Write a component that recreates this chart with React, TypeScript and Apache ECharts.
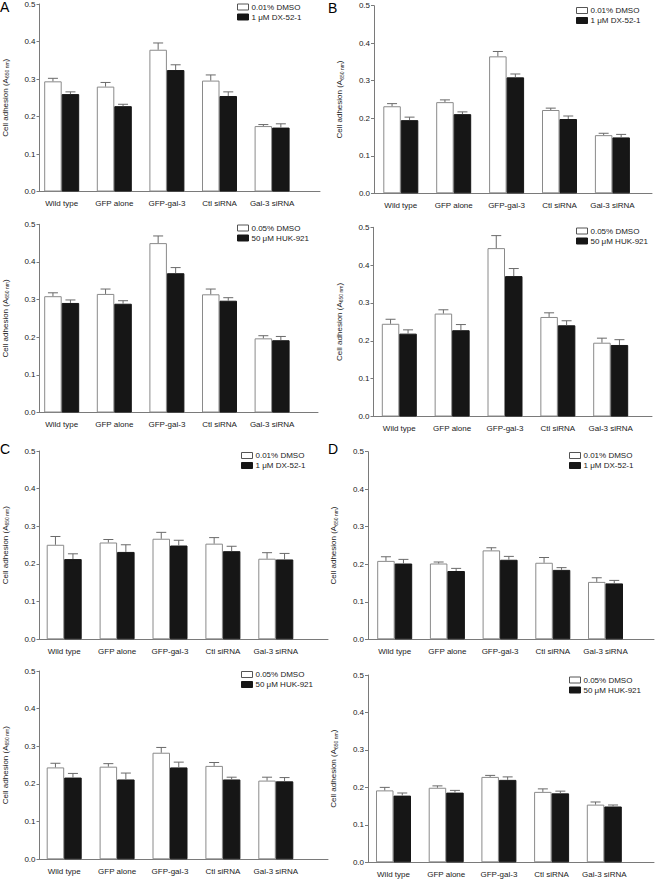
import React, { useEffect, useRef } from "react";
import * as echarts from "echarts";

// ---------- data ----------
const categories = ["Wild type", "GFP alone", "GFP-gal-3", "Ctl siRNA", "Gal-3 siRNA"];
const yTickMin = 0;
const yTickMax = 0.5;
const yTickStep = 0.1;

const legendDX = ["0.01% DMSO", "1 \u03bcM DX-52-1"];
const legendHUK = ["0.05% DMSO", "50 \u03bcM HUK-921"];
const yAxisTitle = "Cell adhesion (A{s|650 nm})";

// Panel A, top (DX-52-1)
const aTopCtrl = [0.293, 0.279, 0.377, 0.295, 0.174];
const aTopCtrlErr = [0.008, 0.011, 0.018, 0.015, 0.004];
const aTopDrug = [0.259, 0.227, 0.323, 0.254, 0.170];
const aTopDrugErr = [0.006, 0.005, 0.014, 0.011, 0.010];
// Panel A, bottom (HUK-921)
const aBotCtrl = [0.309, 0.315, 0.450, 0.314, 0.197];
const aBotCtrlErr = [0.009, 0.013, 0.019, 0.014, 0.007];
const aBotDrug = [0.291, 0.289, 0.370, 0.297, 0.192];
const aBotDrugErr = [0.008, 0.008, 0.015, 0.008, 0.010];
// Panel B, top
const bTopCtrl = [0.232, 0.243, 0.365, 0.222, 0.155];
const bTopCtrlErr = [0.007, 0.006, 0.013, 0.005, 0.005];
const bTopDrug = [0.195, 0.211, 0.309, 0.198, 0.149];
const bTopDrugErr = [0.008, 0.006, 0.009, 0.008, 0.008];
// Panel B, bottom
const bBotCtrl = [0.245, 0.272, 0.445, 0.263, 0.195];
const bBotCtrlErr = [0.012, 0.010, 0.033, 0.011, 0.012];
const bBotDrug = [0.219, 0.228, 0.371, 0.241, 0.189];
const bBotDrugErr = [0.010, 0.015, 0.020, 0.012, 0.014];
// Panel C, top
const cTopCtrl = [0.251, 0.257, 0.267, 0.254, 0.214];
const cTopCtrlErr = [0.022, 0.008, 0.017, 0.016, 0.016];
const cTopDrug = [0.213, 0.232, 0.249, 0.234, 0.212];
const cTopDrugErr = [0.014, 0.019, 0.014, 0.013, 0.016];
// Panel C, bottom
const cBotCtrl = [0.244, 0.246, 0.283, 0.248, 0.209];
const cBotCtrlErr = [0.011, 0.008, 0.014, 0.009, 0.009];
const cBotDrug = [0.217, 0.212, 0.244, 0.212, 0.207];
const cBotDrugErr = [0.011, 0.017, 0.014, 0.006, 0.010];
// Panel D, top
const dTopCtrl = [0.209, 0.202, 0.237, 0.204, 0.153];
const dTopCtrlErr = [0.011, 0.004, 0.007, 0.014, 0.011];
const dTopDrug = [0.202, 0.182, 0.212, 0.185, 0.149];
const dTopDrugErr = [0.011, 0.007, 0.009, 0.006, 0.008];
// Panel D, bottom
const dBotCtrl = [0.192, 0.199, 0.228, 0.188, 0.154];
const dBotCtrlErr = [0.008, 0.005, 0.004, 0.008, 0.007];
const dBotDrug = [0.178, 0.186, 0.220, 0.184, 0.149];
const dBotDrugErr = [0.007, 0.006, 0.008, 0.006, 0.004];

// ---------- layout (positions only) ----------
const W = 656;
const H = 879;
const BAR_W = 17.5;
const CAP_W = 10;
const FONT = "'Liberation Sans', Arial, Helvetica, sans-serif";

type Panel = {
  letter: string;
  axisX: number;
  yTop: number;
  yBot: number;
  c0: number;
  step: number;
  xEnd: number;
  legL: number;
  legT: number;
  legend: string[];
  ctrl: number[];
  ctrlErr: number[];
  drug: number[];
  drugErr: number[];
};

const panels: Panel[] = [
  { letter: "A", axisX: 36.5, yTop: 3.5, yBot: 191.5, c0: 61.7, step: 52.6, xEnd: 320, legL: 237, legT: 3, legend: legendDX, ctrl: aTopCtrl, ctrlErr: aTopCtrlErr, drug: aTopDrug, drugErr: aTopDrugErr },
  { letter: "B", axisX: 374, yTop: 5.7, yBot: 193.3, c0: 400.8, step: 52.9, xEnd: 652, legL: 576, legT: 6.5, legend: legendDX, ctrl: bTopCtrl, ctrlErr: bTopCtrlErr, drug: bTopDrug, drugErr: bTopDrugErr },
  { letter: "", axisX: 36.5, yTop: 224.3, yBot: 412.5, c0: 61.7, step: 52.6, xEnd: 318, legL: 237, legT: 224, legend: legendHUK, ctrl: aBotCtrl, ctrlErr: aBotCtrlErr, drug: aBotDrug, drugErr: aBotDrugErr },
  { letter: "", axisX: 373.5, yTop: 227.3, yBot: 416.5, c0: 399.3, step: 52.85, xEnd: 652, legL: 576, legT: 227, legend: legendHUK, ctrl: bBotCtrl, ctrlErr: bBotCtrlErr, drug: bBotDrug, drugErr: bBotDrugErr },
  { letter: "C", axisX: 39, yTop: 451, yBot: 639.3, c0: 64.2, step: 52.9, xEnd: 328, legL: 241, legT: 451.5, legend: legendDX, ctrl: cTopCtrl, ctrlErr: cTopCtrlErr, drug: cTopDrug, drugErr: cTopDrugErr },
  { letter: "D", axisX: 368, yTop: 451.7, yBot: 639.3, c0: 394.7, step: 52.7, xEnd: 654, legL: 569, legT: 451.5, legend: legendDX, ctrl: dTopCtrl, ctrlErr: dTopCtrlErr, drug: dTopDrug, drugErr: dTopDrugErr },
  { letter: "", axisX: 39, yTop: 671, yBot: 859.3, c0: 64.2, step: 52.9, xEnd: 328, legL: 241, legT: 670.5, legend: legendHUK, ctrl: cBotCtrl, ctrlErr: cBotCtrlErr, drug: cBotDrug, drugErr: cBotDrugErr },
  { letter: "", axisX: 368, yTop: 675, yBot: 862.3, c0: 393.5, step: 52.7, xEnd: 654, legL: 569, legT: 676, legend: legendHUK, ctrl: dBotCtrl, ctrlErr: dBotCtrlErr, drug: dBotDrug, drugErr: dBotDrugErr },
];

const letterPos = [
  { x: 0, y: 0 },
  { x: 328, y: 1 },
  null,
  null,
  { x: 0, y: 442 },
  { x: 328, y: 442 },
  null,
  null,
];

function buildOption() {
  const grid: any[] = [];
  const xAxis: any[] = [];
  const yAxis: any[] = [];
  const series: any[] = [];
  const legend: any[] = [];
  const graphic: any[] = [];

  panels.forEach((p, i) => {
    const frameIdx = i * 2;
    const barsIdx = i * 2 + 1;
    const height = p.yBot - p.yTop;
    // frame grid (axes lines)
    grid.push({ left: p.axisX, top: p.yTop, width: p.xEnd - p.axisX, height });
    // bars grid (category bands)
    grid.push({ left: p.c0 - p.step / 2, top: p.yTop, width: p.step * 5, height });

    xAxis.push({
      gridIndex: frameIdx,
      type: "value",
      min: 0,
      max: 1,
      axisLine: { show: true, onZero: false, lineStyle: { color: "#7a7a7a", width: 1 } },
      axisTick: { show: false },
      axisLabel: { show: false },
      splitLine: { show: false },
    });
    xAxis.push({
      gridIndex: barsIdx,
      type: "category",
      data: categories,
      axisLine: { show: false },
      axisTick: { show: false },
      axisLabel: { fontSize: 8, color: "#222", margin: 8, fontFamily: FONT, interval: 0 },
      splitLine: { show: false },
    });
    yAxis.push({
      gridIndex: frameIdx,
      type: "value",
      min: yTickMin,
      max: yTickMax,
      interval: yTickStep,
      axisLine: { show: true, onZero: false, lineStyle: { color: "#7a7a7a", width: 1 } },
      axisTick: { show: true, length: 3, lineStyle: { color: "#7a7a7a" } },
      axisLabel: {
        fontSize: 8,
        color: "#222",
        margin: 4,
        fontFamily: FONT,
        formatter: (v: number) => v.toFixed(1),
      },
      splitLine: { show: false },
      name: yAxisTitle,
      nameLocation: "middle",
      nameGap: 30,
      nameRotate: 90,
      nameTextStyle: {
        fontSize: 8,
        color: "#222",
        fontFamily: FONT,
        rich: { s: { fontSize: 5, color: "#222", fontFamily: FONT, padding: [4, 0, 0, 0] } },
      },
    });
    yAxis.push({
      gridIndex: barsIdx,
      type: "value",
      min: yTickMin,
      max: yTickMax,
      show: false,
    });

    series.push({
      name: p.legend[0],
      type: "bar",
      xAxisIndex: barsIdx,
      yAxisIndex: barsIdx,
      barWidth: BAR_W,
      barGap: "0%",
      data: p.ctrl,
      itemStyle: { color: "#ffffff", borderColor: "#8a8a8a", borderWidth: 1 },
      silent: true,
    });
    series.push({
      name: p.legend[1],
      type: "bar",
      xAxisIndex: barsIdx,
      yAxisIndex: barsIdx,
      barWidth: BAR_W,
      barGap: "0%",
      data: p.drug,
      itemStyle: { color: "#161616", borderColor: "#161616", borderWidth: 1 },
      silent: true,
    });
    const errData: number[][] = [];
    p.ctrl.forEach((v, k) => errData.push([k, v, p.ctrlErr[k], -1]));
    p.drug.forEach((v, k) => errData.push([k, v, p.drugErr[k], 1]));
    series.push({
      type: "custom",
      xAxisIndex: barsIdx,
      yAxisIndex: barsIdx,
      z: 5,
      silent: true,
      data: errData,
      renderItem: (params: any, api: any) => {
        const ci = api.value(0);
        const v = api.value(1);
        const e = api.value(2);
        const side = api.value(3);
        const base = api.coord([ci, v]);
        const top = api.coord([ci, v + e]);
        const x = base[0] + (side * BAR_W) / 2;
        const stroke = "#6a6a6a";
        return {
          type: "group",
          children: [
            { type: "line", shape: { x1: x, y1: base[1], x2: x, y2: top[1] }, style: { stroke, lineWidth: 1 } },
            { type: "line", shape: { x1: x - CAP_W / 2, y1: top[1], x2: x + CAP_W / 2, y2: top[1] }, style: { stroke, lineWidth: 1 } },
          ],
        };
      },
    });

    legend.push({
      orient: "vertical",
      left: p.legL,
      top: p.legT,
      itemWidth: 11,
      itemHeight: 6,
      itemGap: 2,
      padding: 0,
      selectedMode: false,
      icon: "rect",
      textStyle: { fontSize: 8, color: "#222", fontFamily: FONT, padding: [0, 0, 0, -2] },
      data: [
        { name: p.legend[0], itemStyle: { color: "#ffffff", borderColor: "#555", borderWidth: 1 } },
        { name: p.legend[1], itemStyle: { color: "#161616", borderColor: "#161616", borderWidth: 1 } },
      ],
    });

    const lp = letterPos[i];
    if (lp && p.letter) {
      graphic.push({
        type: "text",
        x: lp.x,
        y: lp.y,
        style: { text: p.letter, fontSize: 14, fill: "#000", fontFamily: FONT },
      });
    }
  });

  return {
    animation: false,
    backgroundColor: "#ffffff",
    grid,
    xAxis,
    yAxis,
    series,
    legend,
    graphic,
  };
}

export default function App() {
  const ref = useRef<HTMLDivElement>(null);
  useEffect(() => {
    if (!ref.current) return;
    const chart = echarts.init(ref.current, undefined, { renderer: "svg", width: W, height: H });
    chart.setOption(buildOption() as any);
    return () => chart.dispose();
  }, []);
  return (
    <div
      ref={ref}
      style={{ position: "fixed", left: 0, top: 0, width: W, height: H, background: "#fff" }}
    />
  );
}
